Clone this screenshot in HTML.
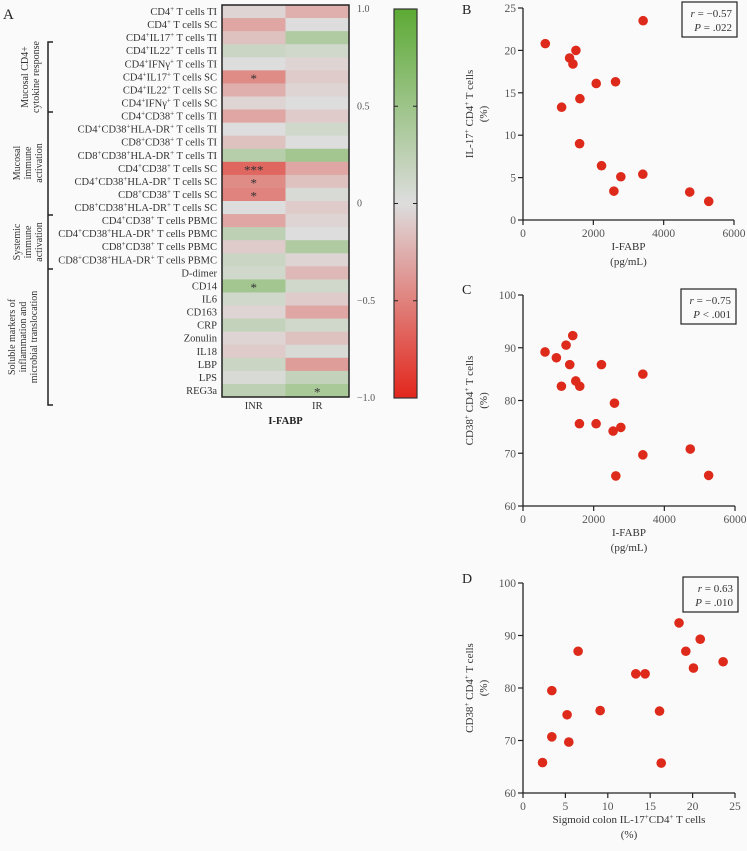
<!DOCTYPE html>
<html><head><meta charset="utf-8"><style>
html,body{margin:0;padding:0;background:#fafafa;}
svg{display:block;font-family:"Liberation Serif",serif;}
</style></head><body>
<svg id="fig" width="747" height="851" viewBox="0 0 747 851" xmlns="http://www.w3.org/2000/svg">
<g id="heat"></g>
<g id="pB"></g>
<g id="pC"></g>
<g id="pD"></g>
</svg>
<script>
const rowLabels = ["CD4<tspan baseline-shift='super' font-size='7'>+</tspan> T cells TI","CD4<tspan baseline-shift='super' font-size='7'>+</tspan> T cells SC","CD4<tspan baseline-shift='super' font-size='7'>+</tspan>IL17<tspan baseline-shift='super' font-size='7'>+</tspan> T cells TI","CD4<tspan baseline-shift='super' font-size='7'>+</tspan>IL22<tspan baseline-shift='super' font-size='7'>+</tspan> T cells TI","CD4<tspan baseline-shift='super' font-size='7'>+</tspan>IFNγ<tspan baseline-shift='super' font-size='7'>+</tspan> T cells TI","CD4<tspan baseline-shift='super' font-size='7'>+</tspan>IL17<tspan baseline-shift='super' font-size='7'>+</tspan> T cells SC","CD4<tspan baseline-shift='super' font-size='7'>+</tspan>IL22<tspan baseline-shift='super' font-size='7'>+</tspan> T cells SC","CD4<tspan baseline-shift='super' font-size='7'>+</tspan>IFNγ<tspan baseline-shift='super' font-size='7'>+</tspan> T cells SC","CD4<tspan baseline-shift='super' font-size='7'>+</tspan>CD38<tspan baseline-shift='super' font-size='7'>+</tspan> T cells TI","CD4<tspan baseline-shift='super' font-size='7'>+</tspan>CD38<tspan baseline-shift='super' font-size='7'>+</tspan>HLA-DR<tspan baseline-shift='super' font-size='7'>+</tspan> T cells TI","CD8<tspan baseline-shift='super' font-size='7'>+</tspan>CD38<tspan baseline-shift='super' font-size='7'>+</tspan> T cells TI","CD8<tspan baseline-shift='super' font-size='7'>+</tspan>CD38<tspan baseline-shift='super' font-size='7'>+</tspan>HLA-DR<tspan baseline-shift='super' font-size='7'>+</tspan> T cells TI","CD4<tspan baseline-shift='super' font-size='7'>+</tspan>CD38<tspan baseline-shift='super' font-size='7'>+</tspan> T cells SC","CD4<tspan baseline-shift='super' font-size='7'>+</tspan>CD38<tspan baseline-shift='super' font-size='7'>+</tspan>HLA-DR<tspan baseline-shift='super' font-size='7'>+</tspan> T cells SC","CD8<tspan baseline-shift='super' font-size='7'>+</tspan>CD38<tspan baseline-shift='super' font-size='7'>+</tspan> T cells SC","CD8<tspan baseline-shift='super' font-size='7'>+</tspan>CD38<tspan baseline-shift='super' font-size='7'>+</tspan>HLA-DR<tspan baseline-shift='super' font-size='7'>+</tspan> T cells SC","CD4<tspan baseline-shift='super' font-size='7'>+</tspan>CD38<tspan baseline-shift='super' font-size='7'>+</tspan> T cells PBMC","CD4<tspan baseline-shift='super' font-size='7'>+</tspan>CD38<tspan baseline-shift='super' font-size='7'>+</tspan>HLA-DR<tspan baseline-shift='super' font-size='7'>+</tspan> T cells PBMC","CD8<tspan baseline-shift='super' font-size='7'>+</tspan>CD38<tspan baseline-shift='super' font-size='7'>+</tspan> T cells PBMC","CD8<tspan baseline-shift='super' font-size='7'>+</tspan>CD38<tspan baseline-shift='super' font-size='7'>+</tspan>HLA-DR<tspan baseline-shift='super' font-size='7'>+</tspan> T cells PBMC","D-dimer","CD14","IL6","CD163","CRP","Zonulin","IL18","LBP","LPS","REG3a"];
const colLabels = ["INR","IR"];
const inrValues = [-0.05,-0.3,-0.15,0.15,0,-0.45,-0.25,-0.05,-0.3,0,-0.15,0.3,-0.65,-0.45,-0.5,0,-0.3,0.25,-0.1,0.15,0.1,0.45,0.1,-0.05,0.2,-0.05,-0.1,0.15,0.05,0.25];
const irValues = [-0.25,0,0.35,0.1,-0.05,-0.1,-0.05,0,-0.1,0.1,0,0.45,-0.3,-0.15,0.05,-0.1,-0.05,0,0.35,-0.05,-0.2,0.1,-0.1,-0.3,0.1,-0.15,0.05,-0.35,0.2,0.4];
const inrStars = ["","","","","","*","","","","","","","***","*","*","","","","","","","*","","","","","","","",""];
const irStars = ["","","","","","","","","","","","","","","","","","","","","","","","","","","","","","*"];
const cbTicks = [1.0,0.5,0,-0.5,-1.0];
const cbTickLabels = ["1.0","0.5","0","\u22120.5","\u22121.0"];

const bX = [634,1505,1325,1420,3416,2082,2631,1618,1098,1609,2233,2782,3407,2584,4741,5281];
const bY = [20.8,20.0,19.1,18.4,23.5,16.1,16.3,14.3,13.3,9.0,6.4,5.1,5.4,3.4,3.3,2.2];
const cX = [624,945,1219,1408,1323,2220,3392,1493,1606,1087,2589,1597,2069,2551,2769,3392,4734,2627,5254];
const cY = [89.2,88.1,90.5,92.3,86.8,86.8,85.0,83.7,82.7,82.7,79.5,75.6,75.6,74.2,74.9,69.7,70.8,65.7,65.8];
const dX = [2.3,3.4,3.4,5.2,5.4,6.5,9.1,13.3,14.4,16.1,16.3,18.4,19.2,20.1,20.9,23.6];
const dY = [65.8,70.7,79.5,74.9,69.7,87.0,75.7,82.7,82.7,75.6,65.7,92.4,87.0,83.8,89.3,85.0];
const fabpTicks = [0,2000,4000,6000];
const il17Ticks = [0,5,10,15,20,25];
const cd38Ticks = [60,70,80,90,100];

const NS="http://www.w3.org/2000/svg";
function mk(parent,tag,attrs){const e=document.createElementNS(NS,tag);for(const k in attrs)e.setAttribute(k,attrs[k]);parent.appendChild(e);return e;}
function colorFor(v){
  const g=[221,221,221];
  let t,c;
  if(v<0){t=Math.min(1,-v);c=[226,38,28];}else{t=Math.min(1,v);c=[92,170,52];}
  const r=g.map((x,i)=>Math.round(x+(c[i]-x)*t));
  return `rgb(${r[0]},${r[1]},${r[2]})`;
}

// Heatmap
const H=document.getElementById('heat');
const hx0=222,hx1=349,hy0=5,hy1=397;
const cw=(hx1-hx0)/2, rh=(hy1-hy0)/rowLabels.length;
function rowY(i){return hy0+i*rh;}
const cols=[inrValues,irValues], stars=[inrStars,irStars];
for(let i=0;i<rowLabels.length;i++){
  for(let j=0;j<2;j++){
    const r=mk(H,'rect',{x:hx0+j*cw,y:rowY(i),width:cw+0.5,height:rh+0.5,fill:colorFor(cols[j][i])});
    
    
    if(stars[j][i]){
      const s=mk(H,'text',{x:hx0+j*cw+cw/2,y:rowY(i)+rh/2+6,'text-anchor':'middle','font-size':'13',fill:'#333'});
      s.textContent=stars[j][i];
      
      
    }
  }
  const t=mk(H,'text',{x:217,y:rowY(i)+rh/2+3.5,'text-anchor':'end','font-size':'10.5',fill:'#333'});
  t.innerHTML=rowLabels[i];
  
  
}
mk(H,'rect',{x:hx0,y:hy0,width:hx1-hx0,height:hy1-hy0,fill:'none',stroke:'#222','stroke-width':1.5});
colLabels.forEach((c,j)=>{const t=mk(H,'text',{x:hx0+j*cw+cw/2,y:409,'text-anchor':'middle','font-size':'10.5',fill:'#333'});t.textContent=c;
  
  });
{const t=mk(H,'text',{x:(hx0+hx1)/2,y:424,'text-anchor':'middle','font-size':'10.5','font-weight':'bold',fill:'#222'});t.textContent='I-FABP';
 
 }
{const t=mk(H,'text',{x:3,y:19,'font-size':'15',fill:'#222'});t.textContent='A';
 
 }
// colorbar
const cbx=394,cbw=23,cby0=9,cby1=398;
const defs=mk(H,'defs',{});
const lg=mk(defs,'linearGradient',{id:'cbg',x1:0,y1:0,x2:0,y2:1});
[1,0.5,0.25,0,-0.25,-0.5,-1].forEach(v=>{mk(lg,'stop',{offset:((1-v)/2*100)+'%','stop-color':colorFor(v)});});
{const r=mk(H,'rect',{x:cbx,y:cby0,width:cbw,height:cby1-cby0,fill:'url(#cbg)',stroke:'#333','stroke-width':1.2});
 
 }
function cbY(v){return cby0+(1-v)/2*(cby1-cby0);}
cbTicks.forEach((v,i)=>{
  const y=cbY(v);
  if(v<1&&v>-1){mk(H,'line',{x1:cbx,x2:cbx+4,y1:y,y2:y,stroke:'#222'});mk(H,'line',{x1:cbx+cbw-4,x2:cbx+cbw,y1:y,y2:y,stroke:'#222'});}
  const t=mk(H,'text',{x:357,y:y+3,'font-size':'10',fill:'#555'});t.textContent=cbTickLabels[i];
  
  
});
// brackets
mk(H,'path',{d:'M53,42 H48 V405 H53 M48,112 H53 M48,215 H53 M48,269 H53',fill:'none',stroke:'#222','stroke-width':1.5});
function vlabel(lines,firstBase,cy,name){
  lines.forEach((l,k)=>{
    const t=mk(H,'text',{transform:`translate(${firstBase+k*11},${cy}) rotate(-90)`,'text-anchor':'middle','font-size':'10',fill:'#333'});
    t.textContent=l;
    
    
  });
}
vlabel(['Mucosal CD4+','cytokine response'],28,77,'group-label-mucosal-cd4');
vlabel(['Mucosal','immune','activation'],20,163,'group-label-mucosal-activation');
vlabel(['Systemic','immune','activation'],20,242,'group-label-systemic-activation');
vlabel(['Soluble markers of','inflammation and','microbial translocation'],15,337,'group-label-soluble-markers');

// Scatter
function scatter(gid,xs,ys,o){
  const G=document.getElementById(gid);
  const sx=v=>o.x0+(v-o.xmin)/(o.xmax-o.xmin)*(o.x1-o.x0);
  const sy=v=>o.y0-(v-o.ymin)/(o.ymax-o.ymin)*(o.y0-o.y1);
  mk(G,'path',{d:`M${o.x0},${o.y1} V${o.y0} H${o.x1}`,fill:'none',stroke:'#222','stroke-width':1.3});
  o.yt.forEach(v=>{const y=sy(v);mk(G,'line',{x1:o.x0-5,x2:o.x0,y1:y,y2:y,stroke:'#222','stroke-width':1.2});
    const t=mk(G,'text',{x:o.x0-7,y:y+4,'text-anchor':'end','font-size':'11.5',fill:'#555'});t.textContent=v;
    
    });
  o.xt.forEach(v=>{const x=sx(v);mk(G,'line',{x1:x,x2:x,y1:o.y0,y2:o.y0+5,stroke:'#222','stroke-width':1.2});
    const t=mk(G,'text',{x:x,y:o.y0+17,'text-anchor':'middle','font-size':'11.5',fill:'#555'});t.textContent=v;
    
    });
  xs.forEach((v,i)=>{const c=mk(G,'circle',{cx:sx(v),cy:sy(ys[i]),r:4.8,fill:'#dd2a1b'});
    
    });
  const b=mk(G,'rect',{x:o.bx,y:o.by,width:55,height:35,fill:'#fafafa',stroke:'#222','stroke-width':1.2});
  
  
  const t1=mk(G,'text',{x:o.bx+50,y:o.by+15,'text-anchor':'end','font-size':'11',fill:'#333'});t1.innerHTML=o.s1;
  const t2=mk(G,'text',{x:o.bx+50,y:o.by+29,'text-anchor':'end','font-size':'11',fill:'#333'});t2.innerHTML=o.s2;
  const L=mk(G,'text',{x:462,y:o.ly,'font-size':'14',fill:'#222'});L.textContent=o.letter;
  
  
  const yt=mk(G,'text',{transform:`translate(${o.yx},${(o.y0+o.y1)/2}) rotate(-90)`,'text-anchor':'middle','font-size':'11',fill:'#333'});
  
  
  yt.innerHTML=`<tspan x="0" dy="0">${o.ytitle}</tspan><tspan x="0" dy="14">(%)</tspan>`;
  const xt=mk(G,'text',{x:(o.x0+o.x1)/2,y:o.y0+30,'text-anchor':'middle','font-size':'11',fill:'#333'});
  
  
  xt.innerHTML=`<tspan x="${(o.x0+o.x1)/2}" dy="0">${o.xtitle}</tspan><tspan x="${(o.x0+o.x1)/2}" dy="15">${o.xunit}</tspan>`;
}
const sup="<tspan baseline-shift='super' font-size='7'>+</tspan>";
scatter('pB',bX,bY,{x0:523,x1:734,y0:220,y1:8,xmin:0,xmax:6000,ymin:0,ymax:25,xt:fabpTicks,yt:il17Ticks,bx:682,by:2,
  s1:"<tspan font-style='italic'>r</tspan> = \u22120.57",s2:"<tspan font-style='italic'>P</tspan> = .022",letter:'B',ly:14,yx:473,
  ytitle:`IL-17${sup} CD4${sup} T cells`,xtitle:'I-FABP',xunit:'(pg/mL)'});
scatter('pC',cX,cY,{x0:523,x1:735,y0:506,y1:295,xmin:0,xmax:6000,ymin:60,ymax:100,xt:fabpTicks,yt:cd38Ticks,bx:681,by:289,
  s1:"<tspan font-style='italic'>r</tspan> = \u22120.75",s2:"<tspan font-style='italic'>P</tspan> &lt; .001",letter:'C',ly:294,yx:473,
  ytitle:`CD38${sup} CD4${sup} T cells`,xtitle:'I-FABP',xunit:'(pg/mL)'});
scatter('pD',dX,dY,{x0:523,x1:735,y0:793,y1:583,xmin:0,xmax:25,ymin:60,ymax:100,xt:[0,5,10,15,20,25],yt:cd38Ticks,bx:683,by:577,
  s1:"<tspan font-style='italic'>r</tspan> = 0.63",s2:"<tspan font-style='italic'>P</tspan> = .010",letter:'D',ly:583,yx:473,
  ytitle:`CD38${sup} CD4${sup} T cells`,xtitle:`Sigmoid colon IL-17${sup}CD4${sup} T cells`,xunit:'(%)'});
</script>
</body></html>
